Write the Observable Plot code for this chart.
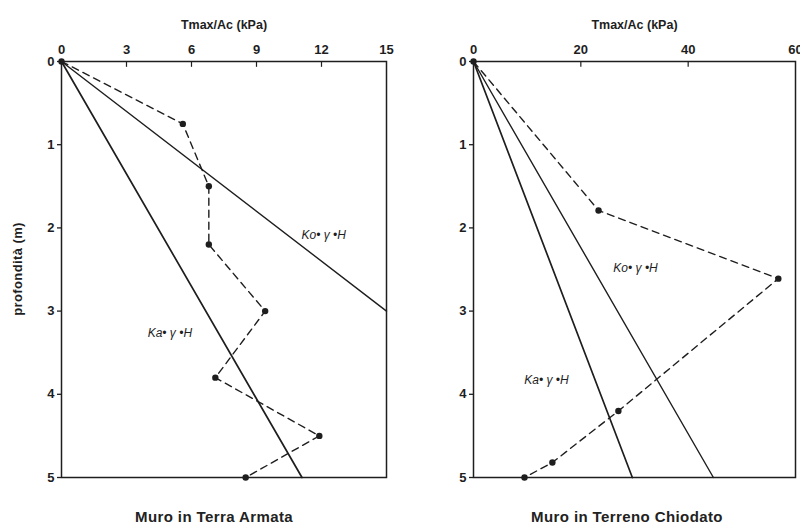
<!DOCTYPE html>
<html>
<head>
<meta charset="utf-8">
<script src="https://cdn.jsdelivr.net/npm/d3@7"></script>
<script src="https://cdn.jsdelivr.net/npm/@observablehq/plot@0.6"></script>
<style>
  html, body { margin: 0; padding: 0; background: #fff; }
  #wrap { position: relative; width: 800px; height: 527px; overflow: hidden; font-family: "Liberation Sans", Arial, sans-serif; }
  .panel { position: absolute; top: 0; width: 400px; }
  .cap { position: absolute; top: 508px; font-weight: bold; font-size: 15px; letter-spacing: 0.4px; color: #222; transform: translateX(-50%); white-space: nowrap; }
</style>
</head>
<body>
<div id="wrap">
  <div class="panel" id="left" style="left:0"></div>
  <div class="panel" id="right" style="left:400px"></div>
  <div class="cap" style="left:214px">Muro in Terra Armata</div>
  <div class="cap" style="left:627px">Muro in Terreno Chiodato</div>
</div>
<script>
// ---- data ----
const depthTicks = [0, 1, 2, 3, 4, 5];
const xTitle = "Tmax/Ac (kPa)";
const yTitle = "profondità (m)";

// Left panel: Muro in Terra Armata
const leftXTicks = [0, 3, 6, 9, 12, 15];
const leftMeasDepth = [0, 0.75, 1.5, 2.2, 3.0, 3.8, 4.5, 5.0];
const leftMeasT = [0, 5.6, 6.8, 6.8, 9.4, 7.1, 11.9, 8.5];
const leftKoDepth = [0, 3];
const leftKoT = [0, 15];
const leftKaDepth = [0, 5];
const leftKaT = [0, 11.1];
const leftLabelText = ["Ko• γ •H", "Ka• γ •H"];
const leftLabelT = [12.1, 5.0];
const leftLabelDepth = [2.09, 3.26];

// Right panel: Muro in Terreno Chiodato
const rightXTicks = [0, 20, 40, 60];
const rightMeasDepth = [0, 1.79, 2.61, 4.2, 4.82, 5.0];
const rightMeasT = [0, 23.3, 56.8, 27.0, 14.7, 9.5];
const rightKoDepth = [0, 5];
const rightKoT = [0, 44.7];
const rightKaDepth = [0, 5];
const rightKaT = [0, 29.6];
const rightLabelText = ["Ko• γ •H", "Ka• γ •H"];
const rightLabelT = [30.2, 13.6];
const rightLabelDepth = [2.48, 3.83];

const zip = (xs, ys) => xs.map((x, i) => ({x, y: ys[i]}));
const ink = "#1e1e1e";

function panel({xTicks, xMax, measT, measDepth, koT, koDepth, kaT, kaDepth, labT, labDepth, labText, marginLeft, marginRight}) {
  const meas = zip(measT, measDepth);
  const ko = zip(koT, koDepth);
  const ka = zip(kaT, kaDepth);
  const labs = labT.map((x, i) => ({x, y: labDepth[i], t: labText[i]}));
  return Plot.plot({
    width: 400,
    height: 490,
    marginTop: 61,
    marginBottom: 13,
    marginLeft,
    marginRight,
    style: {fontFamily: "'Liberation Sans', Arial, sans-serif", fontSize: "12px", fontWeight: "bold", color: ink, background: "#fff", overflow: "visible"},
    x: {domain: [0, xMax]},
    y: {domain: [0, 5], reverse: true},
    marks: [
      Plot.frame({stroke: ink, strokeWidth: 1.5}),
      Plot.axisX(xTicks, {anchor: "top", tickSize: 0, tickPadding: 8, label: null, fontSize: 13, tickFormat: d => String(d)}),
      Plot.ruleX(xTicks.slice(1, -1), {x: d => d, y1: 0, y2: 0.07, stroke: ink, strokeWidth: 1.2}),
      Plot.axisY(depthTicks, {anchor: "left", tickSize: 4, tickPadding: 3, label: null, fontSize: 13, strokeWidth: 1.3, tickFormat: d => String(d)}),
      Plot.text([xTitle], {text: d => d, frameAnchor: "top", dy: -41, fontSize: 12.5}),
      Plot.line(ko, {x: "x", y: "y", stroke: ink, strokeWidth: 1.4}),
      Plot.line(ka, {x: "x", y: "y", stroke: ink, strokeWidth: 1.7}),
      Plot.line(meas, {x: "x", y: "y", stroke: ink, strokeWidth: 1.4, strokeDasharray: "7,5"}),
      Plot.dot(meas, {x: "x", y: "y", r: 3.2, fill: ink}),
      Plot.text(labs, {x: "x", y: "y", text: "t", fontStyle: "italic", fontWeight: "normal", fontSize: 12})
    ]
  });
}

document.getElementById("left").appendChild(panel({xTicks: leftXTicks, xMax: 15, measT: leftMeasT, measDepth: leftMeasDepth,
  koT: leftKoT, koDepth: leftKoDepth, kaT: leftKaT, kaDepth: leftKaDepth,
  labT: leftLabelT, labDepth: leftLabelDepth, labText: leftLabelText, marginLeft: 61, marginRight: 14}));

document.getElementById("right").appendChild(panel({xTicks: rightXTicks, xMax: 60, measT: rightMeasT, measDepth: rightMeasDepth,
  koT: rightKoT, koDepth: rightKoDepth, kaT: rightKaT, kaDepth: rightKaDepth,
  labT: rightLabelT, labDepth: rightLabelDepth, labText: rightLabelText, marginLeft: 73, marginRight: 5}));

// y-axis title (left panel only)
const yt = document.createElement("div");
yt.textContent = yTitle;
Object.assign(yt.style, {position: "absolute", left: "17px", top: "269px", transform: "translate(-50%,-50%) rotate(-90deg)",
  fontWeight: "bold", fontSize: "13px", letterSpacing: "0.4px", color: ink, whiteSpace: "nowrap"});
document.getElementById("wrap").appendChild(yt);
</script>
</body>
</html>
